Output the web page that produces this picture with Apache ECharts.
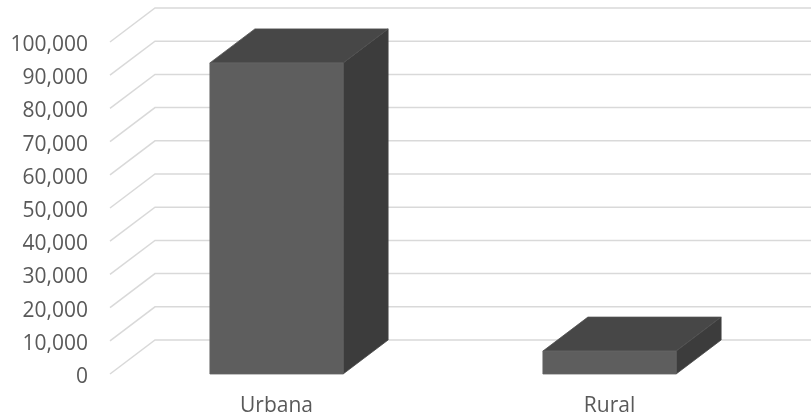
<!DOCTYPE html>
<html>
<head>
<meta charset="utf-8">
<script src="https://cdn.jsdelivr.net/npm/echarts@6/dist/echarts.min.js"></script>
<style>
html,body{margin:0;padding:0;background:#fff;}
#chart{width:811px;height:417px;}
</style>
</head>
<body>
<div id="chart"></div>
<script>
const categories = ['Urbana', 'Rural'];
const values = [93700, 6900];
const tickValues = [0, 10000, 20000, 30000, 40000, 50000, 60000, 70000, 80000, 90000, 100000];

const DX = 45, DY = -34;
const chart = echarts.init(document.getElementById('chart'));

chart.setOption({
  animation: false,
  backgroundColor: '#ffffff',
  grid: { left: 110, right: 35, top: 42, bottom: 42 },
  xAxis: {
    type: 'category',
    data: categories,
    axisLine: { show: false },
    axisTick: { show: false },
    axisLabel: { color: '#595959', fontFamily: 'Open Sans', fontSize: 21, margin: 22 }
  },
  yAxis: {
    type: 'value',
    min: 0, max: 100000, interval: 10000,
    axisLine: { show: false },
    axisTick: { show: false },
    splitLine: { show: false },
    axisLabel: {
      color: '#595959', fontFamily: 'Open Sans', fontSize: 21, margin: 22,
      verticalAlign: 'top', lineHeight: 6,
      formatter: v => v.toLocaleString('en-US')
    }
  },
  series: [
    {
      type: 'custom',
      z: 1,
      clip: false,
      silent: true,
      data: tickValues.map(v => [0, v]),
      encode: { x: 0, y: 1 },
      renderItem: function (params, api) {
        const left = params.coordSys.x;
        const y = api.coord([0, api.value(1)])[1];
        return {
          type: 'polyline',
          shape: { points: [[left, y], [left + DX, y + DY], [api.getWidth(), y + DY]] },
          style: { stroke: '#d9d9d9', lineWidth: 1.5, fill: null }
        };
      }
    },
    {
      type: 'custom',
      z: 2,
      clip: false,
      data: values.map((v, i) => [i, v]),
      encode: { x: 0, y: 1 },
      renderItem: function (params, api) {
        const i = api.value(0);
        const base = api.coord([i, 0]);
        const top = api.coord([i, api.value(1)]);
        const bw = api.size([1, 0])[0] * 0.4;
        const x0 = base[0] - bw / 2, x1 = base[0] + bw / 2;
        const yb = base[1], yt = top[1];
        return {
          type: 'group',
          children: [
            { type: 'polygon', shape: { points: [[x1, yt], [x1 + DX, yt + DY], [x1 + DX, yb + DY], [x1, yb]] },
              style: { fill: '#3c3c3c', stroke: '#454545', lineWidth: 0.8 } },
            { type: 'polygon', shape: { points: [[x0, yt], [x0 + DX, yt + DY], [x1 + DX, yt + DY], [x1, yt]] },
              style: { fill: '#474747', stroke: '#505050', lineWidth: 0.8 } },
            { type: 'rect', shape: { x: x0, y: yt, width: bw, height: yb - yt },
              style: { fill: '#5e5e5e', stroke: '#666666', lineWidth: 0.8 } }
          ]
        };
      }
    }
  ]
});
</script>
</body>
</html>
